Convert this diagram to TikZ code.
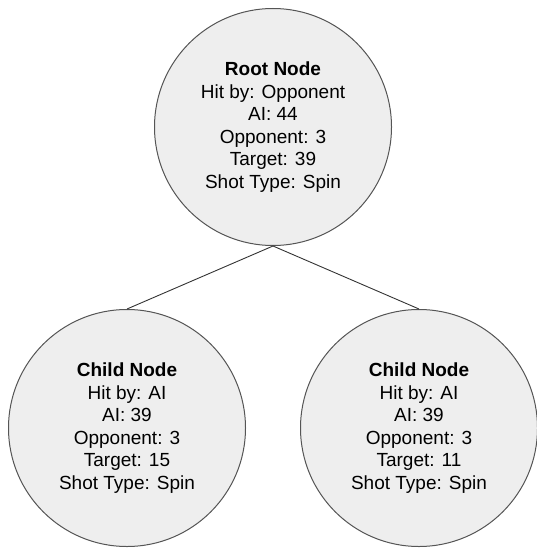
\documentclass[tikz,border=0pt]{standalone}
\usepackage{fontspec}
\setmainfont{Liberation Sans}
\usepackage{tikz}

\definecolor{bubblefill}{HTML}{EEEEEE}
\definecolor{bubbleline}{HTML}{555555}

\begin{document}
\begin{tikzpicture}[x=1pt,y=1pt,level distance=301pt,sibling distance=292pt,
  bubble/.style={circle,draw=bubbleline,fill=bubblefill,line width=1pt,minimum size=237pt,inner sep=0pt,align=center,font=\fontsize{19}{22.6}\selectfont},
  edge from parent/.style={draw=black!80,line width=0.9pt},
  edge from parent path={(\tikzparentnode.south) -- (\tikzchildnode.north)}]
\useasboundingbox (0,0) rectangle (537,-548);
\node[bubble] (root) at (273,-127) {\textbf{Root Node}\\Hit by: Opponent\\AI: 44\\Opponent: 3\\Target: 39\\Shot Type: Spin}
    child {node[bubble] (left) {\textbf{Child Node}\\Hit by: AI\\AI: 39\\Opponent: 3\\Target: 15\\Shot Type: Spin}}
    child {node[bubble] (right) {\textbf{Child Node}\\Hit by: AI\\AI: 39\\Opponent: 3\\Target: 11\\Shot Type: Spin}};
\end{tikzpicture}
\end{document}
